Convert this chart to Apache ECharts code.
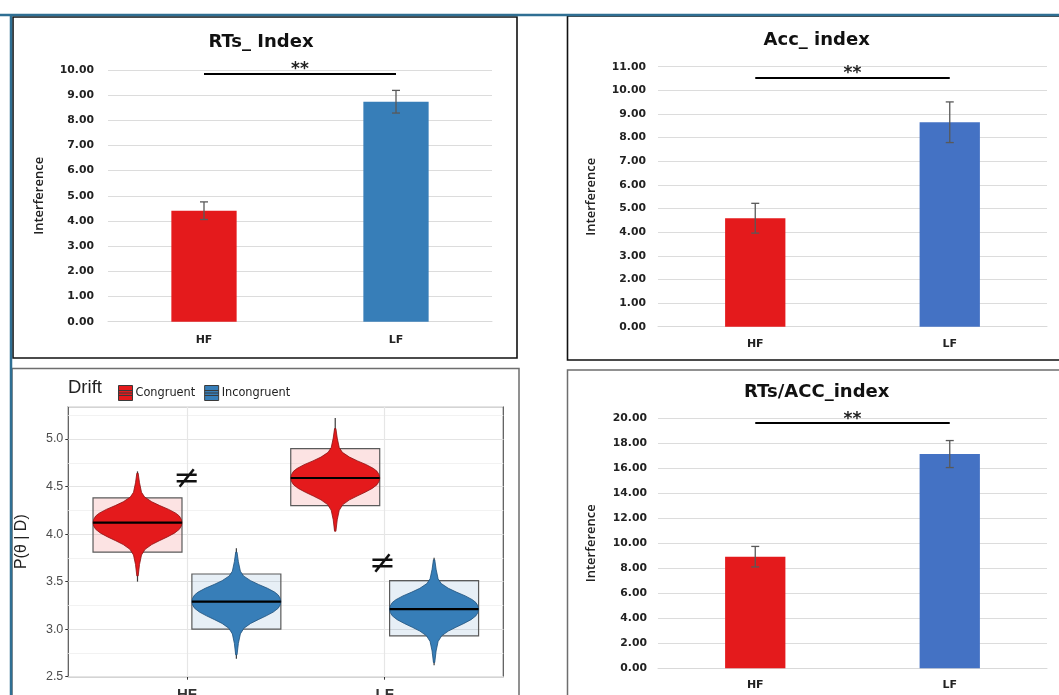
<!DOCTYPE html>
<html>
<head>
<meta charset="utf-8">
<script src="https://cdn.jsdelivr.net/npm/echarts@6/dist/echarts.min.js"></script>
<style>
  html, body { margin: 0; padding: 0; background: #fff; }
  #main { width: 1059px; height: 695px; }
</style>
</head>
<body>
<div id="main"></div>
<script>
// ---- data -------------------------------------------------------------
const groups = ['HF', 'LF'];

// RTs_ Index
const rtMean = [4.41, 8.74];
const rtErr = [0.35, 0.45];
const rtSig = 9.87;

// Acc_ index
const accMean = [4.59, 8.65];
const accErr = [0.63, 0.86];
const accSig = 10.55;

// RTs/ACC_index
const ratioMean = [8.93, 17.14];
const ratioErr = [0.82, 1.08];
const ratioSig = 19.65;

// Posterior of the drift rate, per group: [median, box low, box high, min, max]
const driftCongruent = [[4.12, 3.81, 4.38, 3.50, 4.66], [4.59, 4.30, 4.90, 4.04, 5.22]];
const driftIncongruent = [[3.29, 3.00, 3.58, 2.69, 3.85], [3.21, 2.93, 3.51, 2.62, 3.75]];

// Violin outline: [offset from the median, half-width as a share of the box half-width]
const violinShape = [
  [-0.56, 0.015], [-0.44, 0.045], [-0.34, 0.09], [-0.28, 0.17], [-0.23, 0.32],
  [-0.19, 0.49], [-0.15, 0.67], [-0.11, 0.83], [-0.07, 0.94], [-0.035, 0.985], [0, 1],
  [0.035, 0.985], [0.07, 0.94], [0.10, 0.86], [0.14, 0.70], [0.18, 0.50],
  [0.22, 0.32], [0.27, 0.16], [0.32, 0.09], [0.42, 0.045], [0.52, 0.015]
];

// "not equal" annotations on the drift panel: [x position, value]
const neqMarks = [[1.0, 4.57], [1.99, 3.68]];

const yTicksDrift = [2.5, 3.0, 3.5, 4.0, 4.5, 5.0];

// ---- styling helpers ------------------------------------------------------
const RED = '#e41a1c';
const BLUE1 = '#377eb8';
const BLUE2 = '#4472c4';
const DODGE = 0.25;
const BOX_W = 0.45;

function barXAxis(gridIndex, margin) {
  return {
    type: 'category', gridIndex, data: groups,
    axisLine: { show: true, lineStyle: { color: '#d9d9d9' } },
    axisTick: { show: false },
    axisLabel: { fontFamily: 'DejaVu Sans', fontWeight: 'bold', fontSize: 11, color: '#222', margin }
  };
}
function barYAxis(gridIndex, max, interval, margin, nameGap) {
  return {
    type: 'value', gridIndex, min: 0, max, interval,
    name: 'Interference', nameLocation: 'middle', nameGap,
    nameTextStyle: { fontFamily: 'Open Sans', fontWeight: 600, fontSize: 13, color: '#222' },
    axisLine: { show: false }, axisTick: { show: false },
    axisLabel: { fontFamily: 'DejaVu Sans', fontWeight: 'bold', fontSize: 10.8, color: '#222', margin,
                 formatter: v => v.toFixed(2) },
    splitLine: { lineStyle: { color: '#dcdcdc', width: 1 } }
  };
}
function barSeries(axisIndex, means, colors, sig, barWidth) {
  return {
    type: 'bar', xAxisIndex: axisIndex, yAxisIndex: axisIndex, barWidth,
    data: means.map((v, i) => ({ value: v, itemStyle: { color: colors[i] } })),
    markLine: {
      silent: true, symbol: 'none', animation: false,
      lineStyle: { color: '#000', width: 2, type: 'solid' },
      label: { show: true, position: 'middle', formatter: '**', color: '#222',
               fontFamily: 'DejaVu Sans', fontWeight: 'bold', fontSize: 17, distance: -5 },
      data: [[{ coord: [groups[0], sig] }, { coord: [groups[1], sig] }]]
    }
  };
}
function errorSeries(axisIndex, means, errs) {
  return {
    type: 'custom', xAxisIndex: axisIndex, yAxisIndex: axisIndex, z: 5,
    data: means.map((m, i) => [i, m, errs[i]]),
    renderItem: (params, api) => {
      const i = api.value(0), m = api.value(1), e = api.value(2);
      const hi = api.coord([i, m + e]);
      const lo = api.coord([i, m - e]);
      const cap = 4;
      const style = { stroke: '#595959', lineWidth: 1.3 };
      return { type: 'group', children: [
        { type: 'line', shape: { x1: hi[0], y1: hi[1], x2: lo[0], y2: lo[1] }, style },
        { type: 'line', shape: { x1: hi[0] - cap, y1: hi[1], x2: hi[0] + cap, y2: hi[1] }, style },
        { type: 'line', shape: { x1: lo[0] - cap, y1: lo[1], x2: lo[0] + cap, y2: lo[1] }, style }
      ] };
    }
  };
}

function violinSeries(name, rows, offset, fill, edge, boxFill) {
  return {
    type: 'custom', name, xAxisIndex: 2, yAxisIndex: 2, z: 4,
    itemStyle: { color: fill, borderColor: '#333', borderWidth: 1 },
    data: rows.map((r, i) => [i + 1 + offset].concat(r)),
    encode: { x: 0, y: [1, 2, 3, 4, 5] },
    renderItem: (params, api) => {
      const x = api.value(0), med = api.value(1), lo = api.value(2), hi = api.value(3);
      const mn = api.value(4), mx = api.value(5);
      const c = api.coord([x, med]);
      const halfW = api.size([BOX_W, 0])[0] / 2;
      const pHi = api.coord([x, hi]), pLo = api.coord([x, lo]);
      const pMax = api.coord([x, mx]), pMin = api.coord([x, mn]);
      const right = [], left = [];
      violinShape.forEach(([off, f]) => {
        const y = api.coord([x, med + off])[1];
        right.push([c[0] + f * halfW, y]);
        left.push([c[0] - f * halfW, y]);
      });
      const outline = right.concat(left.reverse());
      return { type: 'group', children: [
        { type: 'rect', shape: { x: c[0] - halfW, y: pHi[1], width: 2 * halfW, height: pLo[1] - pHi[1] },
          style: { fill: boxFill, stroke: '#5a5a5a', lineWidth: 1.2 } },
        { type: 'line', shape: { x1: c[0], y1: pMax[1], x2: c[0], y2: pMin[1] },
          style: { stroke: '#3a3a3a', lineWidth: 1.2 } },
        { type: 'polygon', shape: { points: outline },
          style: { fill, stroke: edge, lineWidth: 0.8 } },
        { type: 'line', shape: { x1: c[0] - halfW, y1: c[1], x2: c[0] + halfW, y2: c[1] },
          style: { stroke: '#000', lineWidth: 2.2 } }
      ] };
    }
  };
}

// ---- chart -------------------------------------------------------------------
const chart = echarts.init(document.getElementById('main'), null, { renderer: 'canvas' });

const titleFont = { fontFamily: 'DejaVu Sans', fontWeight: 'bold', fontSize: 18, fill: '#111',
                    align: 'center', verticalAlign: 'middle' };

const option = {
  animation: false,
  backgroundColor: '#fff',
  textStyle: { fontFamily: 'DejaVu Sans' },
  grid: [
    { left: 108, top: 70, width: 384, height: 251.7, outerBoundsMode: 'none' },
    { left: 658, top: 66.7, width: 389, height: 260, outerBoundsMode: 'none' },
    { left: 68.3, top: 406.7, width: 435, height: 270, show: true, borderColor: '#555', borderWidth: 1.2,
      backgroundColor: 'transparent', outerBoundsMode: 'none' },
    { left: 658, top: 418.3, width: 389, height: 250, outerBoundsMode: 'none' }
  ],
  legend: {
    data: ['Congruent', 'Incongruent'],
    left: 113, top: 380, itemWidth: 14, itemHeight: 15, itemGap: 9,
    icon: 'path://M0,0L14,0L14,15L0,15Z M0,5L14,5 M0,7.5L14,7.5 M0,10L14,10',
    selectedMode: false,
    itemStyle: { borderColor: '#3a3a3a', borderWidth: 1 },
    textStyle: { fontFamily: "'DejaVu Sans Condensed', 'Liberation Sans', sans-serif",
                 fontSize: 12.6, color: '#222', padding: [0, 0, 0, -2] }
  },
  xAxis: [
    barXAxis(0, 13),
    barXAxis(1, 12),
    {
      type: 'value', gridIndex: 2, min: 0.4, max: 2.6,
      axisLine: { show: false },
      splitLine: { show: false },
      axisTick: { show: true, length: 3, lineStyle: { color: '#333' }, customValues: [1, 2] },
      axisLabel: { customValues: [1, 2], formatter: v => groups[Math.round(v) - 1],
                   fontFamily: 'Liberation Sans', fontWeight: 'bold', fontSize: 15, color: '#333', margin: 11 }
    },
    barXAxis(3, 11)
  ],
  yAxis: [
    barYAxis(0, 10, 1, 14, 62),
    barYAxis(1, 11, 1, 12, 60),
    {
      type: 'value', gridIndex: 2, min: 2.5, max: 5.34, interval: 0.5,
      name: 'P(θ | D)', nameLocation: 'middle', nameGap: 39,
      nameTextStyle: { fontFamily: 'Liberation Sans', fontSize: 16, color: '#222' },
      axisLine: { show: false },
      axisTick: { show: true, length: 3, lineStyle: { color: '#333' } },
      axisLabel: { fontFamily: 'Liberation Sans', fontSize: 12.5, color: '#4d4d4d', margin: 5,
                   showMaxLabel: false, formatter: v => (yTicksDrift.indexOf(v) >= 0 ? v.toFixed(1) : '') },
      splitLine: { lineStyle: { color: '#e4e4e4', width: 1.2 } },
      z: 3
    },
    barYAxis(3, 20, 2, 11, 60),
    {
      // lighter half-step grid of the drift panel
      type: 'value', gridIndex: 2, min: 2.5, max: 5.34, interval: 0.25, position: 'left',
      axisLine: { show: false }, axisTick: { show: false }, axisLabel: { show: false },
      splitLine: { lineStyle: { color: '#f2f2f2', width: 1 } },
      z: 1
    }
  ],
  series: [
    barSeries(0, rtMean, [RED, BLUE1], rtSig, '34%'),
    errorSeries(0, rtMean, rtErr),
    barSeries(1, accMean, [RED, BLUE2], accSig, '31%'),
    errorSeries(1, accMean, accErr),
    barSeries(3, ratioMean, [RED, BLUE2], ratioSig, '31%'),
    errorSeries(3, ratioMean, ratioErr),
    Object.assign(violinSeries('Congruent', driftCongruent, -DODGE, RED, '#8a1012', 'rgba(228,26,28,0.12)'), {
      markLine: {
        silent: true, symbol: 'none', animation: false, label: { show: false },
        lineStyle: { color: '#e6e6e6', width: 1.2, type: 'solid' },
        data: [{ xAxis: 1 }, { xAxis: 2 }]
      }
    }),
    violinSeries('Incongruent', driftIncongruent, DODGE, BLUE1, '#1d4f7a', 'rgba(55,126,184,0.12)'),
    {
      type: 'custom', xAxisIndex: 2, yAxisIndex: 2, z: 6, silent: true,
      data: neqMarks,
      renderItem: (params, api) => {
        const p = api.coord([api.value(0), api.value(1)]);
        return { type: 'text', x: p[0], y: p[1],
                 style: { text: '≠', fontFamily: 'DejaVu Sans', fontSize: 32, fill: '#111',
                          align: 'center', verticalAlign: 'middle' } };
      }
    }
  ],
  graphic: [
    // panel frames
    { type: 'rect', shape: { x: 13, y: 17, width: 504, height: 341 }, silent: true,
      style: { fill: 'none', stroke: '#111', lineWidth: 1.6 } },
    { type: 'rect', shape: { x: 567.5, y: 16, width: 500, height: 344 }, silent: true,
      style: { fill: 'none', stroke: '#111', lineWidth: 1.6 } },
    { type: 'rect', shape: { x: 12, y: 368.5, width: 507, height: 340 }, silent: true,
      style: { fill: 'none', stroke: '#6e6e6e', lineWidth: 1.5 } },
    { type: 'rect', shape: { x: 567.5, y: 370, width: 500, height: 340 }, silent: true,
      style: { fill: 'none', stroke: '#6e6e6e', lineWidth: 1.5 } },
    // outer rule
    { type: 'line', shape: { x1: 0, y1: 15, x2: 1059, y2: 15 }, silent: true,
      style: { stroke: '#2f6f93', lineWidth: 2.5 } },
    { type: 'line', shape: { x1: 11, y1: 15, x2: 11, y2: 695 }, silent: true,
      style: { stroke: '#2f6f93', lineWidth: 2.5 } },
    // titles
    { type: 'text', x: 261, y: 42, silent: true, style: Object.assign({ text: 'RTs_ Index' }, titleFont) },
    { type: 'text', x: 816.7, y: 40, silent: true, style: Object.assign({ text: 'Acc_ index' }, titleFont) },
    { type: 'text', x: 816.7, y: 392, silent: true, style: Object.assign({ text: 'RTs/ACC_index' }, titleFont) },
    { type: 'text', x: 68, y: 388, silent: true,
      style: { text: 'Drift', fontFamily: 'Liberation Sans', fontSize: 18.5, fill: '#222',
               align: 'left', verticalAlign: 'middle' } }
  ]
};

chart.setOption(option);
</script>
</body>
</html>
